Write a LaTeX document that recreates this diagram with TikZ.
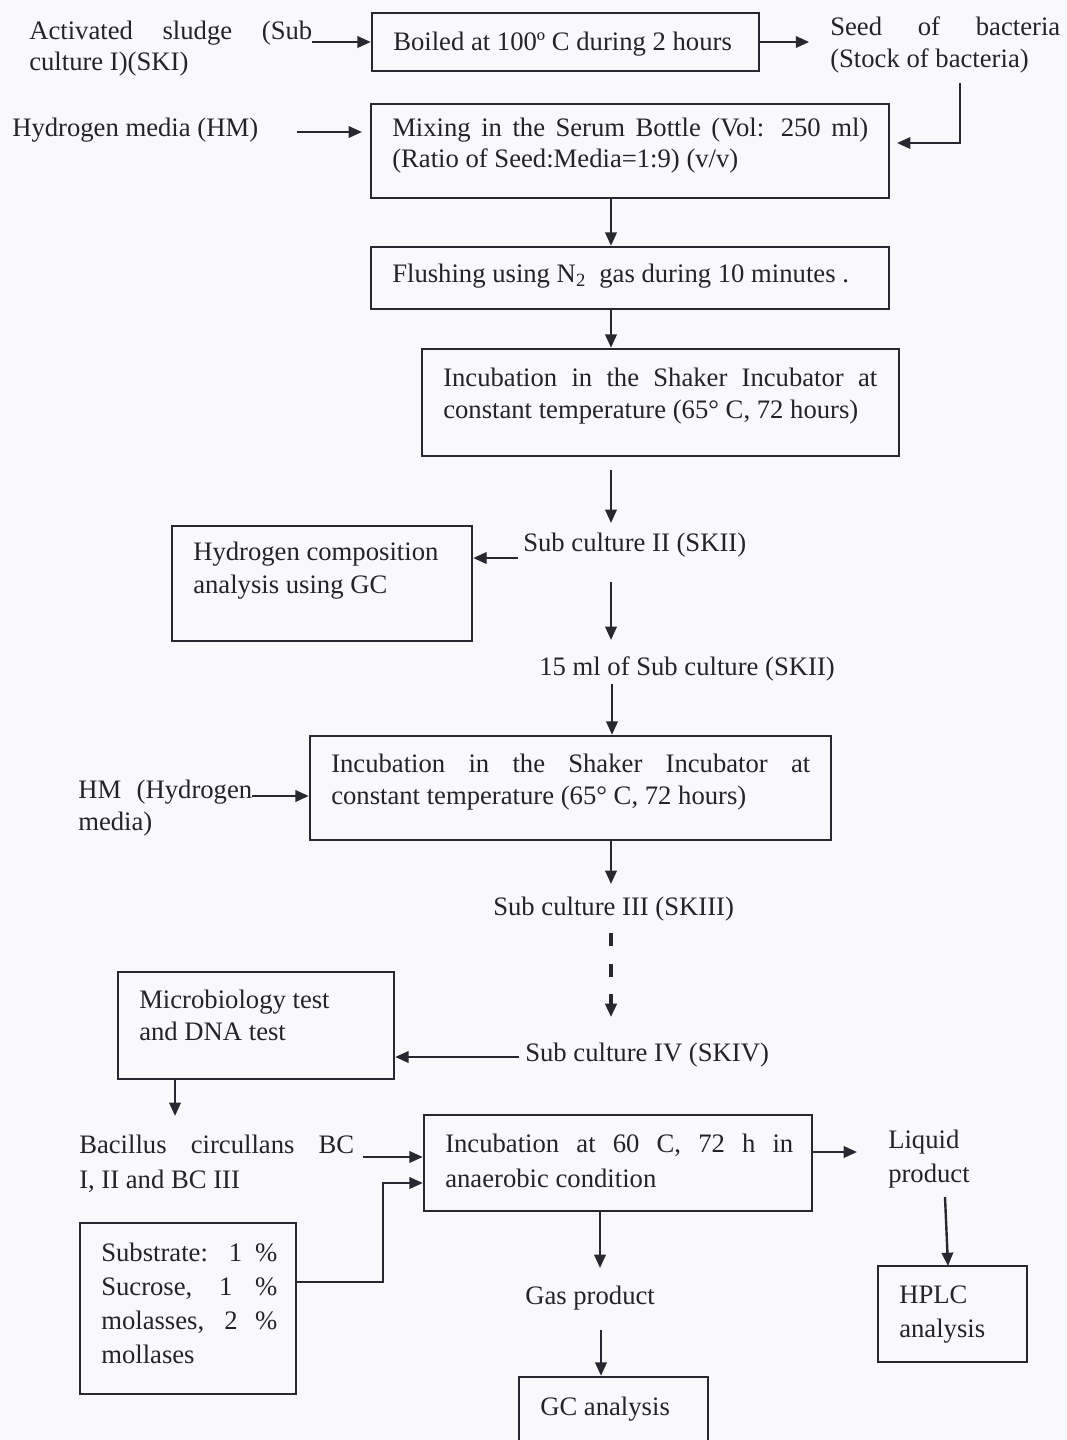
\documentclass[tikz,border=0pt]{standalone}
\usepackage{fontspec}
\setmainfont{Liberation Serif}
\usetikzlibrary{arrows.meta,fit,calc}
\newdimen\pxu \pxu=0.75pt
\newcommand\jl[2]{\makebox[#1\pxu][s]{#2}}
\definecolor{ink}{RGB}{40,40,48}
\definecolor{txtc}{RGB}{36,36,40}
\definecolor{bg}{RGB}{249,249,252}
\begin{document}
\begin{tikzpicture}[x=0.75pt,y=-0.75pt,
  txt/.style={font=\fontsize{20}{24}\selectfont, text=txtc, inner sep=0pt, anchor=base west},
  box/.style={draw=ink, line width=1.8pt, inner sep=0pt},
  arr/.style={draw=ink, line width=1.8pt, -{Triangle[length=10pt,width=8.5pt]}}]
\useasboundingbox (0,0) rectangle (1067,1440);
\fill[bg] (0,0) rectangle (1067,1440);
\clip (0,0) rectangle (1067,1440);

% boxes
\node[box, fit={(372,13) (759,71)}] (boil) {};
\node[box, fit={(371,104) (889,198)}] (mix) {};
\node[box, fit={(371,247) (889,309)}] (flush) {};
\node[box, fit={(422,349) (899,456)}] (inc1) {};
\node[box, fit={(172,526) (472,641)}] (hyd) {};
\node[box, fit={(310,736) (831,840)}] (inc2) {};
\node[box, fit={(118,972) (394,1079)}] (micro) {};
\node[box, fit={(424,1115) (812,1211)}] (inc3) {};
\node[box, fit={(80,1223) (296,1394)}] (subs) {};
\node[box, fit={(878,1266) (1027,1362)}] (hplc) {};
\node[box, fit={(519,1377) (708,1460)}] (gc) {};

% texts
\node[txt] (a1) at (29,39) {\jl{283}{Activated sludge (Sub}};
\node[txt] (a2) at (29,70) {culture I)(SKI)};
\node[txt] (boilT) at (393,50) {Boiled at 100º C during 2 hours};
\node[txt] (seed1) at (830,35) {\jl{230}{Seed of bacteria}};
\node[txt] (seed2) at (830,67) {(Stock of bacteria)};
\node[txt] (hm1) at (12,136) {Hydrogen media (HM)};
\node[txt] (mix1) at (392,136) {\jl{476}{Mixing in the Serum Bottle (Vol: 250 ml)}};
\node[txt] (mix2) at (392,167) {(Ratio of Seed:Media=1:9) (v/v)};
\node[txt] (fl) at (392,282) {Flushing using N\textsubscript{2}\ \ gas during 10 minutes .};
\node[txt] (inc1a) at (443,386) {\jl{434}{Incubation in the Shaker Incubator at}};
\node[txt] (inc1b) at (443,418) {constant temperature (65° C, 72 hours)};
\node[txt] (sub2) at (523,551) {Sub culture II (SKII)};
\node[txt] (hyd1) at (193,560) {Hydrogen composition};
\node[txt] (hyd2) at (193,593) {analysis using GC};
\node[txt] (ml15) at (539,675) {15 ml of Sub culture (SKII)};
\node[txt] (inc2a) at (331,772) {\jl{479}{Incubation in the Shaker Incubator at}};
\node[txt] (inc2b) at (331,804) {constant temperature (65° C, 72 hours)};
\node[txt] (hm2a) at (78,798) {\jl{174}{HM (Hydrogen}};
\node[txt] (hm2b) at (78,830) {media)};
\node[txt] (sub3) at (493,915) {Sub culture III (SKIII)};
\node[txt] (micro1) at (139,1008) {Microbiology test};
\node[txt] (micro2) at (139,1040) {and DNA test};
\node[txt] (sub4) at (525,1061) {Sub culture IV (SKIV)};
\node[txt] (bac1) at (79,1153) {\jl{275}{Bacillus circullans BC}};
\node[txt] (bac2) at (79,1188) {I, II and BC III};
\node[txt] (inc3a) at (445,1152) {\jl{348}{Incubation at 60 C, 72 h in}};
\node[txt] (inc3b) at (445,1187) {anaerobic condition};
\node[txt] (liq1) at (888,1148) {Liquid};
\node[txt] (liq2) at (888,1182) {product};
\node[txt] (sb1) at (101,1261) {\jl{176}{Substrate: 1 \%}};
\node[txt] (sb2) at (101,1295) {\jl{176}{Sucrose, 1 \%}};
\node[txt] (sb3) at (101,1329) {\jl{176}{molasses, 2 \%}};
\node[txt] (sb4) at (101,1363) {mollases};
\node[txt] (gas) at (525,1304) {Gas product};
\node[txt] (hplc1) at (899,1303) {HPLC};
\node[txt] (hplc2) at (899,1337) {analysis};
\node[txt] (gcT) at (540,1415) {GC analysis};

% connector coordinates
\coordinate (cx) at (611,0);
\coordinate (s1) at (312,42);
\coordinate (s2) at (960,83);
\coordinate (e2) at (897,143);
\coordinate (s3) at (297,132);
\coordinate (e3) at (362,132);
\coordinate (s5) at (611,470);
\coordinate (e5) at (611,523);
\coordinate (s6) at (518,558);
\coordinate (s7) at (611,582);
\coordinate (e7) at (611,640);
\coordinate (s8) at (612,684);
\coordinate (s9) at (252,796);
\coordinate (e10) at (611,884);
\coordinate (s11) at (611,933);
\coordinate (e11) at (611,1017);
\coordinate (s12) at (519,1057);
\coordinate (cm) at (175,0);
\coordinate (e13) at (175,1116);
\coordinate (s14) at (363,1157);
\coordinate (s15) at (296,1282);
\coordinate (k15) at (383,1183);
\coordinate (s16) at (812,1152);
\coordinate (e16) at (857,1152);
\coordinate (cg) at (600,0);
\coordinate (e17) at (600,1268);
\coordinate (s18) at (601,1330);
\coordinate (s19) at (945,1197);
\coordinate (e19) at (948,1266);

% connectors
\draw[arr] (s1) -- (s1 -| boil.west);
\draw[arr] (boil.east) -- ++(49,0);
\draw[arr] (s2) |- (e2);
\draw[arr] (s3) -- (e3);
\draw[arr] (mix.south -| cx) -- (flush.north -| cx);
\draw[arr] (flush.south -| cx) -- (inc1.north -| cx);
\draw[arr] (s5) -- (e5);
\draw[arr] (s6) -- (s6 -| hyd.east);
\draw[arr] (s7) -- (e7);
\draw[arr] (s8) -- (s8 |- inc2.north);
\draw[arr] (s9) -- (s9 -| inc2.west);
\draw[arr] (inc2.south -| cx) -- (e10);
\draw[arr, line width=2.6pt, dash pattern=on 10pt off 13pt] (s11) -- (e11);
\draw[arr] (s12) -- (s12 -| micro.east);
\draw[arr] (micro.south -| cm) -- (e13);
\draw[arr] (s14) -- (s14 -| inc3.west);
\draw[arr] (s15) -| (k15) -- (k15 -| inc3.west);
\draw[arr] (s16) -- (e16);
\draw[arr] (inc3.south -| cg) -- (e17);
\draw[arr] (s18) -- (s18 |- gc.north);
\draw[arr] (s19) -- (e19);
\end{tikzpicture}
\end{document}
